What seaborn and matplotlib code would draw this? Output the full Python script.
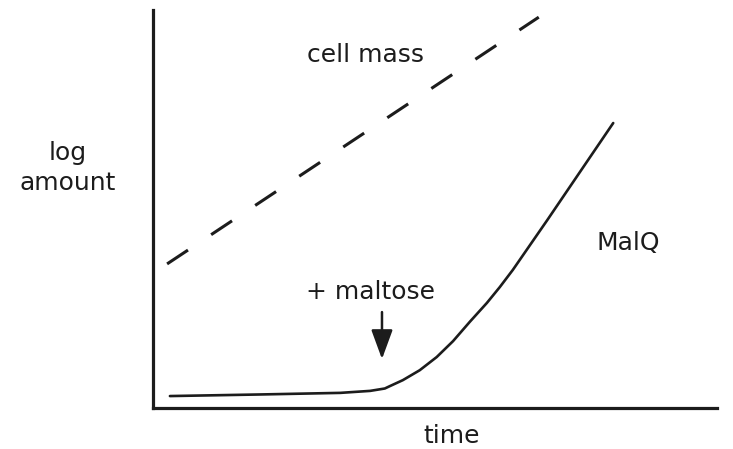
import matplotlib
matplotlib.use("Agg")
import matplotlib.pyplot as plt
import seaborn as sns
import pandas as pd

# --- data (arbitrary units) ---
cell_mass_time = [0.25, 6.84]
cell_mass_log = [3.62, 9.82]

malq_time = [0.30, 1.90, 3.32, 3.85, 4.11, 4.20, 4.43, 4.73, 5.03, 5.32,
             5.62, 5.92, 6.15, 6.38, 6.99, 7.57, 8.16]
malq_log = [0.30, 0.34, 0.38, 0.43, 0.49, 0.55, 0.70, 0.95, 1.28, 1.68,
            2.17, 2.64, 3.04, 3.47, 4.72, 5.93, 7.16]

maltose_time = 4.06
arrow_from = 2.41
arrow_to = 1.23

sns.set_theme(style="white")
plt.rcParams['font.family'] = ['DejaVu Sans']

fig = plt.figure(figsize=(7.33, 4.49), dpi=100)
ax = fig.add_axes([153/733, 1 - 408/449, 564/733, 398/449])

ink = "#1c1c1c"
df_cell = pd.DataFrame({"time": cell_mass_time, "log": cell_mass_log})
df_malq = pd.DataFrame({"time": malq_time, "log": malq_log})

sns.lineplot(data=df_cell, x="time", y="log", ax=ax, color=ink, lw=2.2,
             linestyle=(0, (8.2, 9.1)), estimator=None, dash_capstyle="butt")
sns.lineplot(data=df_malq, x="time", y="log", ax=ax, color=ink, lw=1.9,
             estimator=None, solid_joinstyle="round")

ax.annotate("", xy=(maltose_time, arrow_to), xytext=(maltose_time, arrow_from),
            arrowprops=dict(arrowstyle="-|>,head_length=1.5,head_width=0.55",
                            color=ink, lw=1.8, shrinkA=0, shrinkB=0))

ax.set_xlim(0, 10)
ax.set_ylim(0, 10)
ax.set_xticks([])
ax.set_yticks([])
sns.despine(ax=ax)
for s in ("left", "bottom"):
    ax.spines[s].set_linewidth(2.3)
    ax.spines[s].set_color(ink)

fs = 18
ax.text(3.76, 8.87, "cell mass", fontsize=fs, ha="center", va="center", color=ink)
ax.text(8.42, 4.15, "MalQ", fontsize=fs, ha="center", va="center", color=ink)
ax.text(3.85, 2.91, "+ maltose", fontsize=fs, ha="center", va="center", color=ink)

ax.set_xlabel("time", fontsize=fs, color=ink, va="center")
ax.xaxis.set_label_coords(0.530, -0.070)
ax.set_ylabel("log\namount", fontsize=fs, color=ink, rotation=0,
              ha="center", va="center", linespacing=1.3)
ax.yaxis.set_label_coords(-0.151, 0.603)

fig.savefig("out.png", dpi=100)
